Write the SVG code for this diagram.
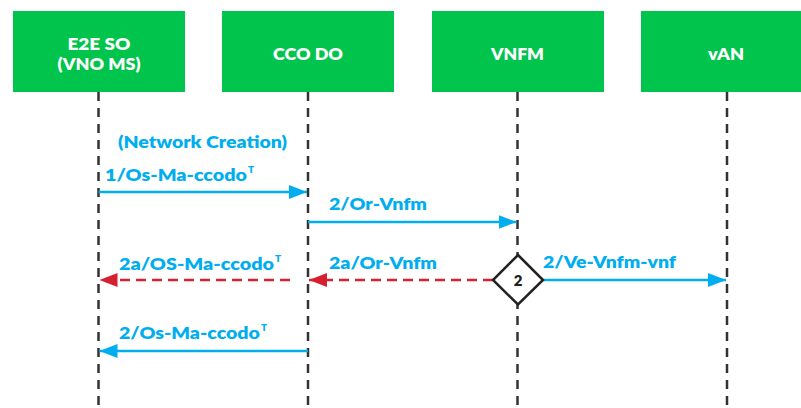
<svg xmlns="http://www.w3.org/2000/svg" width="801" height="408" viewBox="0 0 801 408">
<style>
.box{fill:#00C44B}
.hdr{font-family:Lato,"Liberation Sans",sans-serif;font-weight:800;font-size:17px;fill:#ffffff;text-anchor:middle}
.life{stroke:#333333;stroke-width:2.5;stroke-dasharray:9 7;fill:none}
.lbl{font-family:Lato,"Liberation Sans",sans-serif;font-weight:800;font-size:16.5px;fill:#00AEEF}
.sup{font-size:10px}
.blue{stroke:#00AEEF;stroke-width:2.5;fill:none}
.red{stroke:#D7202F;stroke-width:2.5;stroke-dasharray:10 6;fill:none}
</style>
<defs>
<marker id="ab" markerUnits="userSpaceOnUse" markerWidth="20" markerHeight="16" refX="18" refY="7" orient="auto">
<path d="M0,0 L18,7 L0,14 Z" fill="#00AEEF"/>
</marker>
<marker id="ar" markerUnits="userSpaceOnUse" markerWidth="20" markerHeight="16" refX="18" refY="7" orient="auto">
<path d="M0,0 L18,7 L0,14 Z" fill="#D7202F"/>
</marker>
</defs>
<rect width="801" height="408" fill="#ffffff"/>
<g id="lifelines">
<line class="life" x1="98.5" y1="92" x2="98.5" y2="408"/>
<line class="life" x1="308" y1="92" x2="308" y2="408"/>
<line class="life" x1="517.5" y1="92" x2="517.5" y2="408"/>
<line class="life" x1="727" y1="92" x2="727" y2="408"/>
</g>
<g id="node-e2eso">
<rect class="box" x="13" y="11" width="172" height="81"/>
<text class="hdr" x="99" y="50" textLength="63" lengthAdjust="spacingAndGlyphs">E2E SO</text>
<text class="hdr" x="99" y="70" textLength="83" lengthAdjust="spacingAndGlyphs">(VNO MS)</text>
</g>
<g id="node-ccodo">
<rect class="box" x="222" y="11" width="172" height="81"/>
<text class="hdr" x="308" y="60" textLength="70" lengthAdjust="spacingAndGlyphs">CCO DO</text>
</g>
<g id="node-vnfm">
<rect class="box" x="432" y="11" width="172" height="81"/>
<text class="hdr" x="517.5" y="60" textLength="53" lengthAdjust="spacingAndGlyphs">VNFM</text>
</g>
<g id="node-van">
<rect class="box" x="641" y="11" width="172" height="81"/>
<text class="hdr" x="726" y="60" textLength="36" lengthAdjust="spacingAndGlyphs">vAN</text>
</g>
<g id="connectors">
<line class="blue" x1="98.5" y1="192" x2="307" y2="192" marker-end="url(#ab)"/>
<line class="blue" x1="308" y1="222" x2="516.5" y2="222" marker-end="url(#ab)"/>
<line class="red" x1="493" y1="280" x2="309" y2="280" marker-end="url(#ar)"/>
<line class="red" x1="290" y1="280" x2="99.5" y2="280" marker-end="url(#ar)"/>
<line class="blue" x1="543" y1="280" x2="726" y2="280" marker-end="url(#ab)"/>
<line class="blue" x1="308" y1="351" x2="99.5" y2="351" marker-end="url(#ab)"/>
</g>
<g id="labels">
<text class="lbl" x="118" y="148" textLength="169" lengthAdjust="spacingAndGlyphs">(Network Creation)</text>
<text class="lbl" x="105" y="181"><tspan textLength="142" lengthAdjust="spacingAndGlyphs">1/Os-Ma-ccodo</tspan><tspan class="sup" dx="1" dy="-8">T</tspan></text>
<text class="lbl" x="329" y="210" textLength="98" lengthAdjust="spacingAndGlyphs">2/Or-Vnfm</text>
<text class="lbl" x="119" y="270"><tspan textLength="155" lengthAdjust="spacingAndGlyphs">2a/OS-Ma-ccodo</tspan><tspan class="sup" dx="1" dy="-8">T</tspan></text>
<text class="lbl" x="329" y="269" textLength="108" lengthAdjust="spacingAndGlyphs">2a/Or-Vnfm</text>
<text class="lbl" x="543" y="268" textLength="133" lengthAdjust="spacingAndGlyphs">2/Ve-Vnfm-vnf</text>
<text class="lbl" x="119" y="339"><tspan textLength="141" lengthAdjust="spacingAndGlyphs">2/Os-Ma-ccodo</tspan><tspan class="sup" dx="1" dy="-8">T</tspan></text>
</g>
<g id="node-decision">
<path d="M518,255 L543,280 L518,304.5 L493,280 Z" fill="#ffffff" stroke="#222222" stroke-width="2.5"/>
<text x="518" y="285.5" font-family="Lato,'Liberation Sans',sans-serif" font-weight="800" font-size="15" fill="#222222" text-anchor="middle">2</text>
</g>
</svg>
